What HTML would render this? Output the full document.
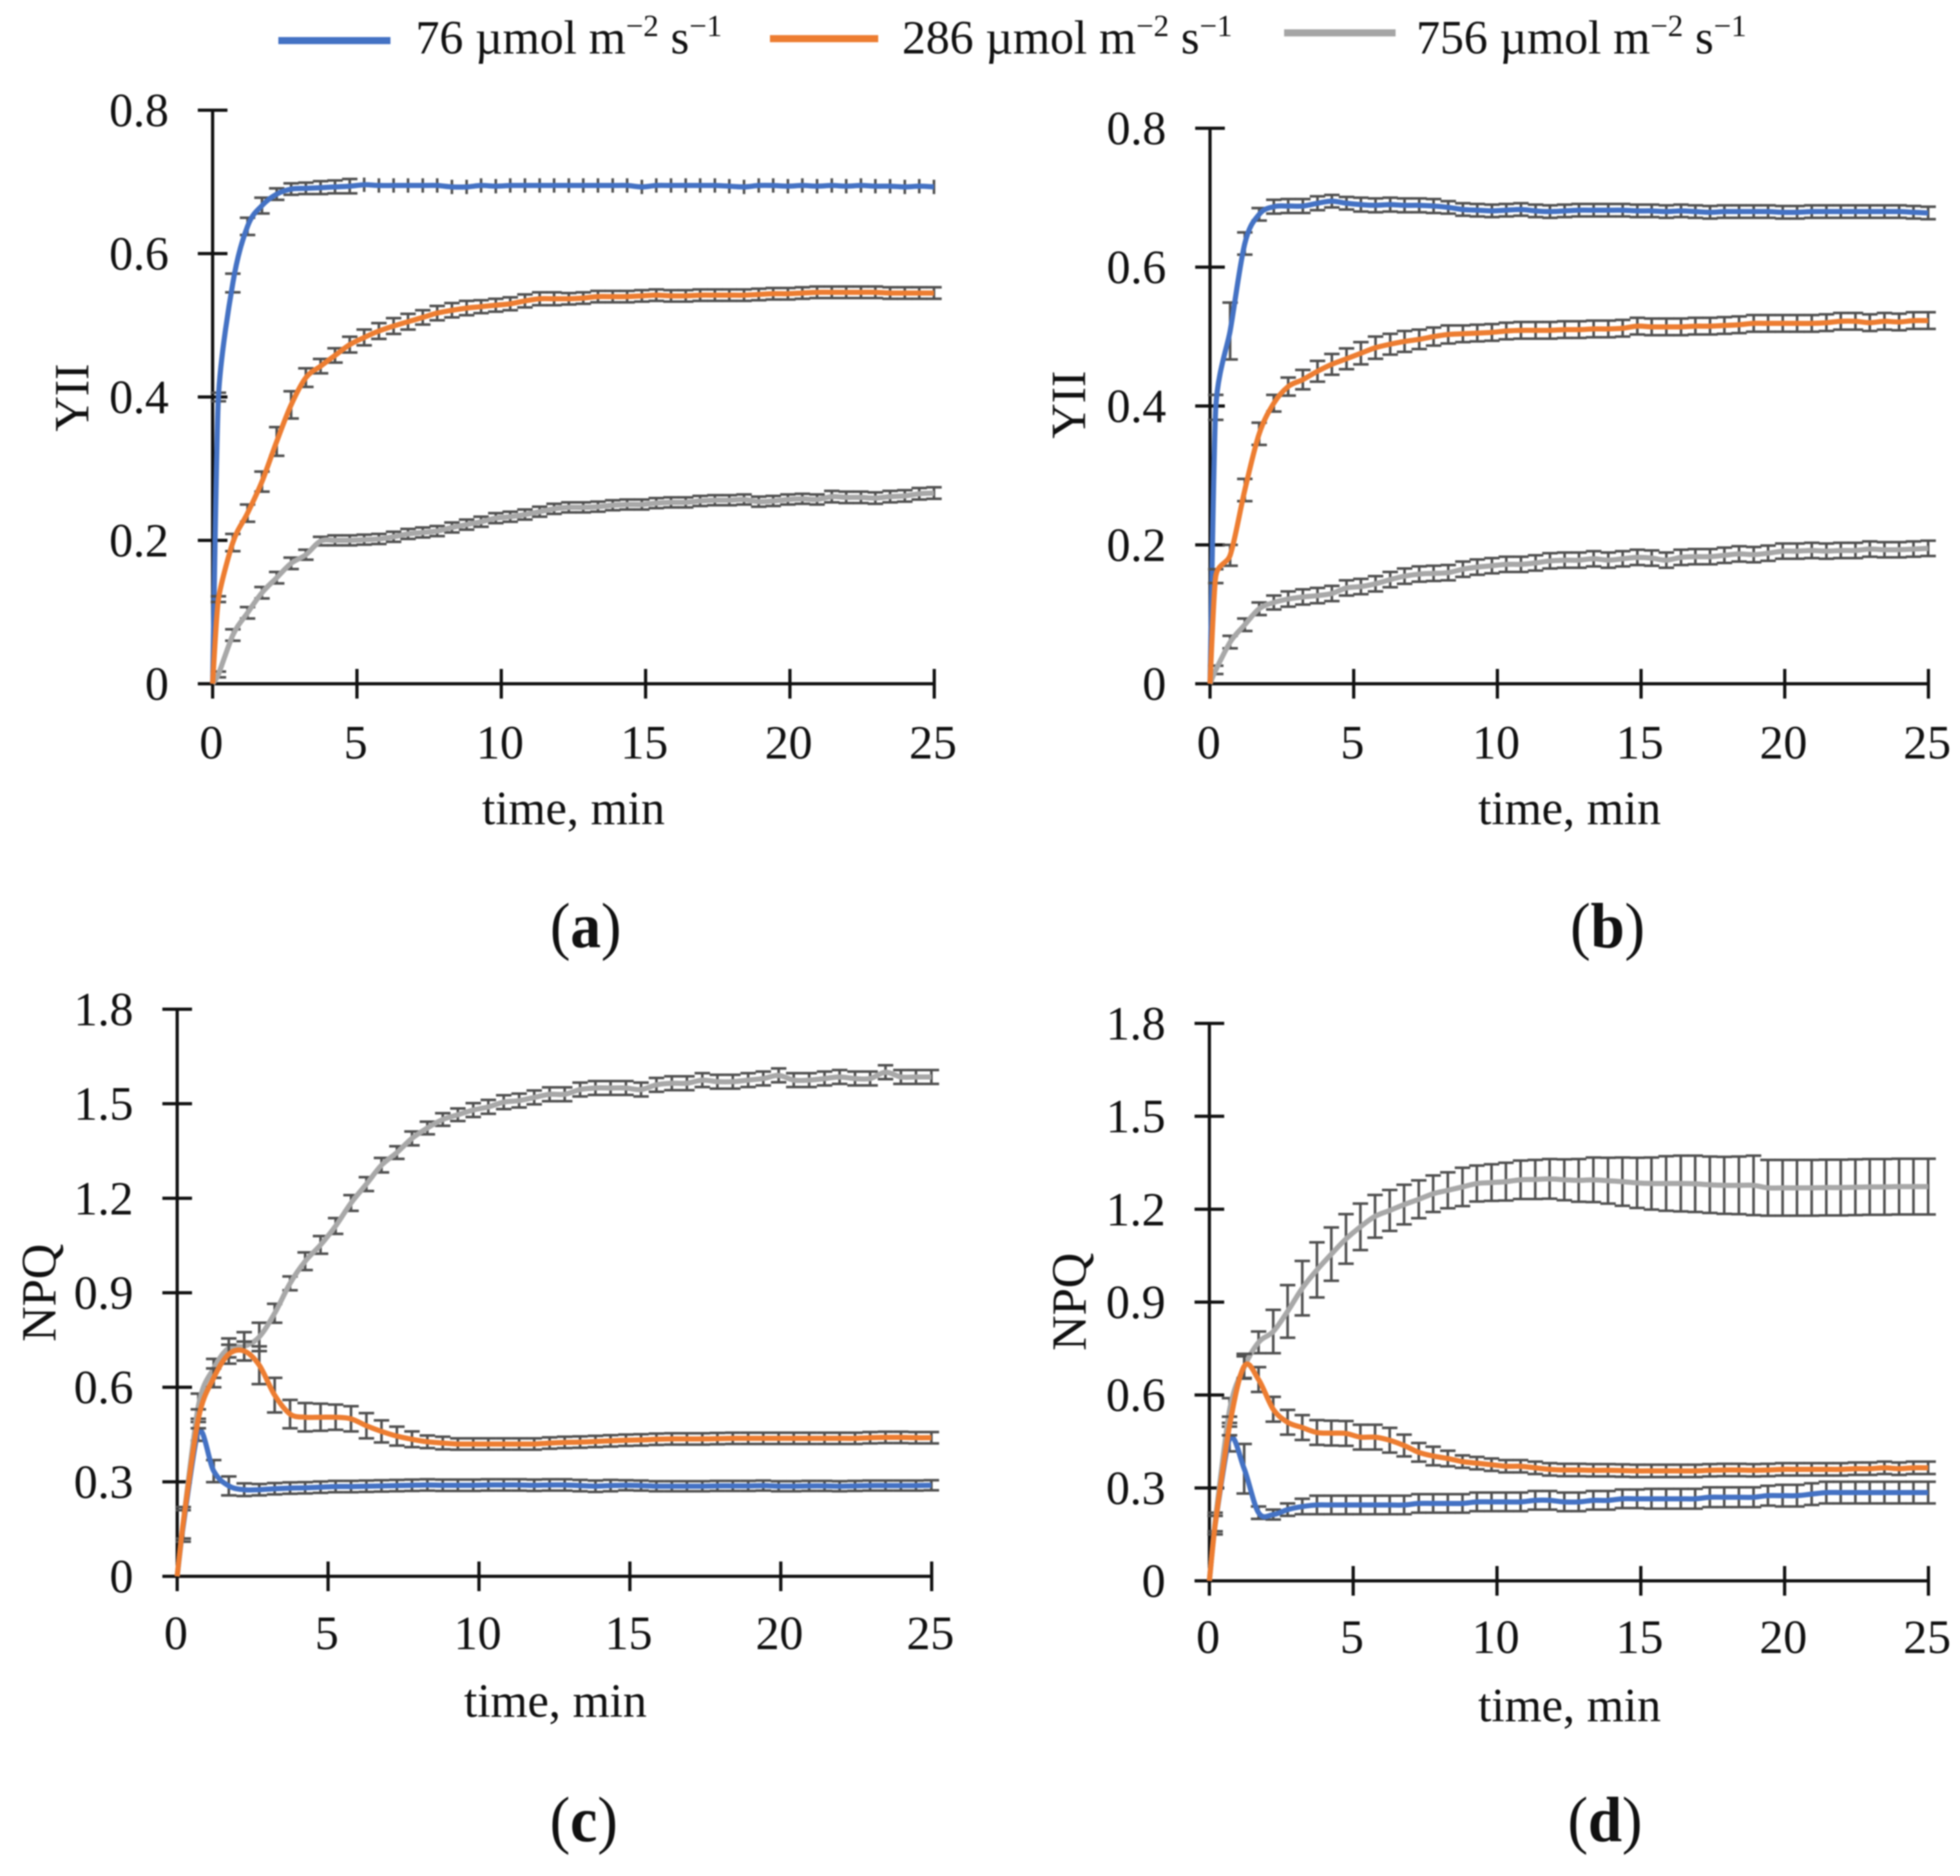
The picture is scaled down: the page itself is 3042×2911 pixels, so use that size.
<!DOCTYPE html>
<html lang="en">
<head>
<meta charset="utf-8">
<title>YII and NPQ kinetics</title>
<style>
html,body{margin:0;padding:0;background:#fff;}
#figure{display:block;width:3042px;height:2911px;filter:blur(1px);background:#fff;}
text{font-family:"Liberation Serif",serif;fill:#111;}
</style>
</head>
<body>
<svg id="figure" xmlns="http://www.w3.org/2000/svg" width="3042" height="2911" viewBox="0 0 3042 2911">
  <g id="legend">
    <g>
      <line x1="432" y1="63" x2="606" y2="63" stroke="#4472C4" stroke-width="11"/>
      <text x="645" y="83" font-size="74">76 µmol m<tspan font-size="48" dy="-27">−2</tspan><tspan dy="27"> s</tspan><tspan font-size="48" dy="-27">−1</tspan></text>
    </g>
    <g>
      <line x1="1195" y1="60" x2="1363" y2="60" stroke="#ED7D31" stroke-width="11"/>
      <text x="1400" y="83" font-size="74">286 µmol m<tspan font-size="48" dy="-27">−2</tspan><tspan dy="27"> s</tspan><tspan font-size="48" dy="-27">−1</tspan></text>
    </g>
    <g>
      <line x1="1993" y1="51" x2="2166" y2="51" stroke="#A5A5A5" stroke-width="11"/>
      <text x="2198" y="83" font-size="74">756 µmol m<tspan font-size="48" dy="-27">−2</tspan><tspan dy="27"> s</tspan><tspan font-size="48" dy="-27">−1</tspan></text>
    </g>
  </g>
</svg>
<script>
const timeMin = [0,.2,.7,1.21,1.71,2.22,2.72,3.23,3.74,4.24,
4.75,5.25,5.76,6.27,6.77,7.28,7.78,8.29,8.8,9.3,
9.81,10.31,10.82,11.33,11.83,12.34,12.84,13.35,13.86,14.36,
14.87,15.37,15.88,16.39,16.89,17.4,17.9,18.41,18.92,19.42,
19.93,20.43,20.94,21.45,21.95,22.46,22.96,23.47,23.98,24.48,
24.99];
const xTickLabels = [0,5,10,15,20,25];
const yiiTickLabels = ["0","0.2","0.4","0.6","0.8"];
const npqTickLabels = ["0","0.3","0.6","0.9","1.2","1.5","1.8"];

const aBlue = [0,.4,.559,.638,.667,.683,.69,.691,.692,.693,
.694,.696,.695,.695,.695,.695,.695,.693,.693,.695,
.694,.695,.695,.695,.695,.695,.695,.695,.695,.695,
.693,.695,.695,.695,.695,.695,.694,.693,.695,.695,
.694,.695,.694,.695,.694,.695,.694,.694,.693,.694,
.693];
const aBlueErr = [0,.006,.013,.012,.011,.008,.008,.008,.009,.009,
.01,.01,.01,.01,.01,.01,.01,.01,.01,.01,
.01,.01,.01,.01,.01,.01,.01,.01,.01,.01,
.01,.01,.01,.01,.01,.01,.01,.01,.01,.01,
.01,.01,.01,.01,.01,.01,.01,.01,.01,.01,
.01];
const aOrange = [0,.118,.197,.238,.282,.338,.389,.427,.443,.458,
.473,.483,.492,.499,.505,.511,.517,.521,.524,.526,
.528,.53,.534,.537,.537,.537,.538,.54,.54,.54,
.541,.542,.541,.541,.542,.542,.542,.542,.543,.544,
.544,.545,.546,.546,.546,.546,.546,.545,.545,.545,
.545];
const aOrangeErr = [0,.004,.012,.012,.014,.02,.019,.013,.01,.01,
.011,.011,.011,.011,.011,.01,.01,.01,.01,.009,
.009,.009,.009,.009,.009,.008,.008,.008,.008,.008,
.008,.008,.008,.008,.008,.008,.008,.008,.008,.008,
.008,.008,.008,.008,.008,.008,.008,.008,.008,.008,
.008];
const aGray = [0,.013,.068,.099,.127,.148,.168,.18,.199,.2,
.2,.201,.202,.205,.209,.211,.213,.218,.222,.226,
.231,.233,.236,.24,.244,.246,.246,.247,.249,.25,
.25,.252,.253,.253,.255,.256,.256,.257,.254,.255,
.257,.258,.257,.261,.26,.26,.259,.261,.262,.265,
.266];
const aGrayErr = [0,.004,.008,.008,.008,.008,.008,.007,.006,.007,
.007,.007,.007,.007,.007,.007,.007,.007,.007,.007,
.007,.007,.007,.007,.007,.007,.007,.007,.007,.007,
.007,.007,.007,.007,.007,.007,.007,.007,.007,.007,
.007,.007,.007,.008,.008,.008,.008,.008,.008,.008,
.008];

const bBlue = [0,.398,.508,.634,.676,.687,.688,.688,.692,.695,
.692,.69,.689,.69,.689,.689,.688,.686,.683,.682,
.681,.682,.683,.681,.68,.681,.682,.682,.682,.682,
.681,.681,.68,.681,.68,.679,.68,.68,.68,.68,
.679,.679,.68,.68,.68,.68,.68,.68,.68,.679,
.678];
const bBlueErr = [0,.018,.041,.016,.009,.01,.01,.01,.01,.009,
.009,.01,.01,.01,.01,.01,.01,.009,.009,.009,
.009,.009,.009,.009,.009,.009,.009,.009,.009,.009,
.009,.009,.009,.009,.009,.009,.009,.009,.009,.009,
.009,.009,.009,.009,.009,.009,.009,.009,.009,.009,
.009];
const bOrange = [0,.155,.185,.279,.36,.404,.428,.438,.45,.46,
.468,.476,.484,.489,.493,.496,.5,.503,.504,.505,
.506,.508,.509,.509,.509,.51,.51,.511,.511,.512,
.515,.514,.514,.514,.515,.515,.516,.517,.519,.519,
.519,.519,.519,.52,.522,.522,.52,.522,.521,.523,
.523];
const bOrangeErr = [0,.01,.015,.016,.016,.012,.013,.014,.015,.015,
.015,.016,.016,.015,.015,.014,.013,.013,.012,.012,
.012,.012,.012,.012,.012,.012,.012,.012,.012,.012,
.012,.012,.012,.012,.012,.012,.012,.012,.012,.012,
.012,.012,.012,.012,.012,.012,.012,.012,.012,.012,
.012];
const bGray = [0,.02,.06,.085,.108,.117,.122,.125,.127,.13,
.138,.14,.144,.15,.155,.158,.159,.16,.165,.168,
.17,.172,.172,.174,.177,.178,.178,.18,.178,.18,
.182,.181,.178,.182,.183,.183,.185,.187,.186,.188,
.191,.191,.192,.191,.192,.192,.194,.193,.193,.194,
.195];
const bGrayErr = [0,.006,.009,.009,.009,.01,.011,.011,.011,.011,
.011,.011,.011,.011,.011,.011,.011,.011,.011,.011,
.011,.011,.011,.011,.011,.011,.011,.011,.011,.011,
.011,.011,.011,.011,.011,.011,.011,.011,.011,.011,
.011,.011,.011,.011,.011,.011,.011,.011,.011,.011,
.011];

const cBlue = [0,.16,.46,.334,.287,.275,.275,.278,.28,.281,
.283,.285,.285,.286,.287,.288,.289,.29,.289,.289,
.289,.29,.29,.29,.289,.29,.29,.288,.286,.288,
.289,.288,.286,.286,.286,.286,.287,.287,.287,.288,
.286,.286,.287,.287,.286,.287,.288,.288,.288,.288,
.289];
const cBlueErr = [0,.05,.03,.035,.03,.02,.018,.018,.018,.018,
.018,.018,.018,.018,.018,.018,.018,.018,.018,.018,
.018,.018,.018,.018,.018,.018,.018,.018,.018,.018,
.016,.016,.016,.016,.016,.016,.016,.016,.016,.016,
.016,.016,.016,.016,.016,.016,.016,.016,.016,.016,
.016];
const cOrange = [0,.17,.5,.63,.705,.715,.67,.575,.515,.505,
.505,.505,.5,.478,.46,.445,.435,.427,.423,.42,
.42,.42,.42,.42,.42,.423,.425,.426,.428,.43,
.432,.433,.435,.436,.436,.436,.437,.438,.438,.438,
.438,.438,.438,.438,.438,.438,.44,.441,.441,.44,
.44];
const cOrangeErr = [0,.05,.03,.03,.03,.03,.06,.055,.045,.045,
.043,.04,.04,.04,.035,.03,.025,.02,.02,.018,
.018,.018,.018,.018,.018,.018,.018,.018,.018,.018,
.018,.018,.018,.018,.018,.018,.018,.018,.018,.018,
.018,.018,.018,.018,.018,.018,.018,.018,.018,.018,
.018];
const cGray = [0,.17,.54,.66,.725,.73,.76,.835,.93,1,
1.052,1.112,1.185,1.245,1.305,1.345,1.39,1.423,1.45,1.465,
1.48,1.49,1.505,1.51,1.52,1.53,1.53,1.545,1.55,1.55,
1.55,1.545,1.56,1.565,1.565,1.575,1.57,1.57,1.575,1.58,
1.59,1.575,1.575,1.58,1.585,1.58,1.58,1.6,1.585,1.585,
1.585];
const cGrayErr = [0,.05,.04,.03,.03,.045,.045,.03,.022,.028,
.028,.025,.025,.022,.023,.02,.022,.02,.02,.02,
.022,.022,.022,.022,.022,.022,.022,.022,.022,.022,
.022,.022,.022,.022,.022,.022,.022,.022,.022,.022,
.022,.022,.022,.022,.022,.022,.022,.022,.022,.022,
.022];

const dBlue = [0,.18,.458,.362,.22,.214,.23,.24,.245,.245,
.245,.245,.245,.245,.245,.25,.25,.25,.25,.255,
.255,.255,.255,.26,.26,.255,.255,.26,.26,.265,
.265,.265,.265,.265,.265,.27,.27,.27,.27,.275,
.275,.275,.28,.285,.285,.285,.285,.285,.285,.285,
.285];
const dBlueErr = [0,.03,.04,.08,.02,.016,.02,.025,.03,.03,
.03,.03,.03,.03,.03,.03,.03,.03,.03,.03,
.03,.03,.03,.03,.03,.03,.03,.03,.03,.03,
.03,.032,.032,.032,.032,.032,.032,.032,.032,.032,
.035,.035,.035,.035,.035,.035,.035,.035,.035,.035,
.035];
const dOrange = [0,.18,.5,.693,.65,.554,.512,.495,.479,.477,
.476,.464,.464,.454,.437,.415,.403,.395,.385,.38,
.375,.37,.37,.365,.36,.358,.358,.357,.357,.356,
.355,.355,.355,.355,.355,.357,.358,.358,.357,.358,
.36,.36,.36,.36,.36,.362,.362,.365,.362,.365,
.365];
const dOrangeErr = [0,.03,.03,.04,.04,.04,.04,.04,.04,.04,
.04,.04,.04,.04,.035,.03,.03,.025,.02,.02,
.02,.02,.02,.02,.02,.02,.02,.02,.02,.02,
.02,.02,.02,.02,.02,.02,.02,.02,.02,.02,
.02,.02,.02,.02,.02,.02,.02,.02,.02,.02,
.02];
const dGray = [0,.19,.55,.69,.77,.805,.87,.945,1.004,1.055,
1.104,1.143,1.177,1.196,1.215,1.232,1.25,1.261,1.272,1.283,
1.286,1.289,1.295,1.296,1.298,1.295,1.293,1.295,1.292,1.289,
1.285,1.283,1.283,1.283,1.282,1.279,1.277,1.277,1.277,1.269,
1.269,1.269,1.269,1.27,1.27,1.271,1.272,1.272,1.273,1.273,
1.273];
const dGrayErr = [0,.03,.04,.035,.035,.07,.085,.088,.089,.086,
.08,.075,.069,.066,.064,.061,.059,.058,.062,.058,
.059,.061,.062,.063,.064,.066,.069,.072,.074,.078,
.081,.084,.088,.09,.091,.091,.092,.093,.096,.09,
.09,.09,.09,.09,.09,.09,.09,.09,.09,.09,
.09];

const NS = 'http://www.w3.org/2000/svg';
const root = document.getElementById('figure');
const BLUE = '#4472C4', ORANGE = '#ED7D31', GRAY = '#A8A8A8', BAR = '#4f4f4f', AXIS = '#111111';

function line(parent, x1, y1, x2, y2, color, width, name) {
  const el = document.createElementNS(NS, 'line');
  
  
  el.setAttribute('x1', x1);
  el.setAttribute('y1', y1);
  el.setAttribute('x2', x2);
  el.setAttribute('y2', y2);
  el.setAttribute('stroke', color);
  el.setAttribute('stroke-width', width);
  parent.appendChild(el);
}

function label(parent, x, y, str, anchor, size, name) {
  const el = document.createElementNS(NS, 'text');
  
  
  el.setAttribute('x', x);
  el.setAttribute('y', y);
  el.setAttribute('text-anchor', anchor);
  el.setAttribute('font-size', size);
  el.textContent = str;
  parent.appendChild(el);
  return el;
}

function group(parent, name) {
  const g = document.createElementNS(NS, 'g');
  
  
  parent.appendChild(g);
  return g;
}

function smoothPath(pts) {
  let d = 'M' + pts[0][0].toFixed(1) + ' ' + pts[0][1].toFixed(1);
  for (let i = 0; i < pts.length - 1; i++) {
    const p0 = pts[Math.max(i - 1, 0)], p1 = pts[i], p2 = pts[i + 1], p3 = pts[Math.min(i + 2, pts.length - 1)];
    const k = i < 2 ? 10 : 6;
    const c1x = p1[0] + (p2[0] - p0[0]) / k, c1y = p1[1] + (p2[1] - p0[1]) / k;
    const c2x = p2[0] - (p3[0] - p1[0]) / k, c2y = p2[1] - (p3[1] - p1[1]) / k;
    d += 'C' + c1x.toFixed(1) + ' ' + c1y.toFixed(1) + ' ' + c2x.toFixed(1) + ' ' + c2y.toFixed(1) + ' ' + p2[0].toFixed(1) + ' ' + p2[1].toFixed(1);
  }
  return d;
}

function drawSeries(parent, xs, ys, values, errors, color, name, capFreeFrom) {
  const g = group(parent, name);
  const bars = group(g, name + '-error-bars');
  const capW = 12;
  values.forEach(function (v, i) {
    if (!errors[i]) return;
    const x = xs(timeMin[i]), top = ys(v + errors[i]), bot = ys(v - errors[i]);
    line(bars, x, top, x, bot, BAR, 4, 'error-bar');
    if (i < capFreeFrom) {
      line(bars, x - capW, top, x + capW, top, BAR, 4, 'error-cap-upper');
      line(bars, x - capW, bot, x + capW, bot, BAR, 4, 'error-cap-lower');
    }
  });
  const path = document.createElementNS(NS, 'path');
  
  
  path.setAttribute('d', smoothPath(values.map(function (v, i) { return [xs(timeMin[i]), ys(v)]; })));
  path.setAttribute('fill', 'none');
  path.setAttribute('stroke', color);
  path.setAttribute('stroke-width', 8);
  path.setAttribute('stroke-linejoin', 'round');
  g.appendChild(path);
}

function drawPanel(cfg) {
  const g = group(root, 'panel-' + cfg.id);
  const xs = function (t) { return cfg.x0 + (cfg.x25 - cfg.x0) * t / 25; };
  const ys = function (v) { return cfg.y0 + (cfg.yTop - cfg.y0) * v / cfg.yMax; };

  const ax = group(g, 'axes-' + cfg.id);
  line(ax, cfg.x0, cfg.yTop, cfg.x0, cfg.y0, AXIS, 5, 'y-axis');
  line(ax, cfg.x0 - 23, cfg.y0, cfg.x25, cfg.y0, AXIS, 5, 'x-axis');
  cfg.yLabels.forEach(function (txt) {
    const y = ys(parseFloat(txt));
    line(ax, cfg.x0 - 23, y, cfg.x0 + 23, y, AXIS, 5, 'y-tick');
    label(ax, cfg.yLabelRight, y + 25, txt, 'end', 74, 'y-tick-label');
  });
  xTickLabels.forEach(function (t) {
    const x = xs(t);
    line(ax, x, cfg.y0 - 23, x, cfg.y0 + 23, AXIS, 5, 'x-tick');
    label(ax, x - 2, cfg.xLabelY, String(t), 'middle', 74, 'x-tick-label');
  });
  label(ax, cfg.xTitleX, cfg.xTitleY, 'time, min', 'middle', 74, 'x-axis-title');

  drawSeries(g, xs, ys, cfg.blue, cfg.blueErr, BLUE, 'series-76-' + cfg.id, cfg.blueCapFreeFrom);
  drawSeries(g, xs, ys, cfg.gray, cfg.grayErr, GRAY, 'series-756-' + cfg.id, 99);
  drawSeries(g, xs, ys, cfg.orange, cfg.orangeErr, ORANGE, 'series-286-' + cfg.id, 99);

  const yt = document.createElementNS(NS, 'text');
  
  
  yt.setAttribute('transform', 'translate(' + cfg.yTitleX + ',' + cfg.yTitleY + ') rotate(-90)');
  yt.setAttribute('text-anchor', 'middle');
  yt.setAttribute('font-size', 76);
  yt.textContent = cfg.yTitle;
  g.appendChild(yt);

  const cap = document.createElementNS(NS, 'text');
  
  
  cap.setAttribute('transform', 'translate(' + cfg.capX + ',' + cfg.capY + ') scale(.95,1)');
  cap.setAttribute('text-anchor', 'middle');
  cap.setAttribute('font-size', 100);
  const open = document.createElementNS(NS, 'tspan');
  open.textContent = '(';
  cap.appendChild(open);
  const letter = document.createElementNS(NS, 'tspan');
  letter.setAttribute('font-weight', 'bold');
  letter.textContent = cfg.id;
  cap.appendChild(letter);
  const close = document.createElementNS(NS, 'tspan');
  close.textContent = ')';
  cap.appendChild(close);
  g.appendChild(cap);
}

drawPanel({id:'a', x0:330, x25:1450, y0:1061, yTop:171, yMax:.8, yLabels:yiiTickLabels, yLabelRight:262,
  xLabelY:1177, xTitleX:890, xTitleY:1279, yTitle:'YII', yTitleX:137, yTitleY:617, capX:909, capY:1470,
  blue:aBlue, blueErr:aBlueErr, orange:aOrange, orangeErr:aOrangeErr, gray:aGray, grayErr:aGrayErr, blueCapFreeFrom:11});
drawPanel({id:'b', x0:1878, x25:2993, y0:1061, yTop:199, yMax:.8, yLabels:yiiTickLabels, yLabelRight:1810,
  xLabelY:1177, xTitleX:2436, xTitleY:1279, yTitle:'YII', yTitleX:1684, yTitleY:628, capX:2495, capY:1470,
  blue:bBlue, blueErr:bBlueErr, orange:bOrange, orangeErr:bOrangeErr, gray:bGray, grayErr:bGrayErr, blueCapFreeFrom:99});
drawPanel({id:'c', x0:275, x25:1446, y0:2446, yTop:1566, yMax:1.8, yLabels:npqTickLabels, yLabelRight:207,
  xLabelY:2559, xTitleX:862, xTitleY:2664, yTitle:'NPQ', yTitleX:86, yTitleY:2006, capX:906, capY:2857,
  blue:cBlue, blueErr:cBlueErr, orange:cOrange, orangeErr:cOrangeErr, gray:cGray, grayErr:cGrayErr, blueCapFreeFrom:99});
drawPanel({id:'d', x0:1877, x25:2993, y0:2453, yTop:1588, yMax:1.8, yLabels:npqTickLabels, yLabelRight:1809,
  xLabelY:2565, xTitleX:2436, xTitleY:2671, yTitle:'NPQ', yTitleX:1685, yTitleY:2020, capX:2491, capY:2857,
  blue:dBlue, blueErr:dBlueErr, orange:dOrange, orangeErr:dOrangeErr, gray:dGray, grayErr:dGrayErr, blueCapFreeFrom:99});
</script>
</body>
</html>
